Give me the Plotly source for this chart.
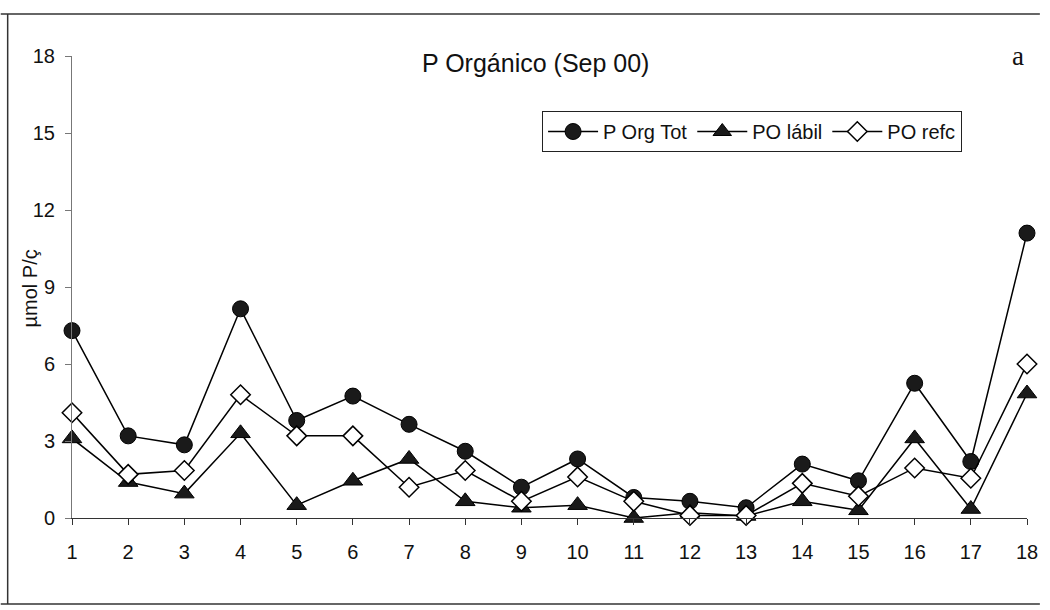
import plotly.graph_objects as go

# Sampling stations and organic phosphorus fractions (µmol P/g)
estaciones = list(range(1, 19))
p_org_tot = [7.3, 3.2, 2.85, 8.15, 3.8, 4.75, 3.65, 2.6, 1.2, 2.3, 0.8, 0.65, 0.4, 2.1, 1.45, 5.25, 2.2, 11.1]
po_labil = [3.1, 1.4, 0.95, 3.3, 0.5, 1.45, 2.3, 0.65, 0.4, 0.5, 0.0, 0.2, 0.08, 0.65, 0.3, 3.1, 0.35, 4.85]
po_refc = [4.1, 1.7, 1.85, 4.8, 3.2, 3.2, 1.2, 1.85, 0.65, 1.6, 0.65, 0.1, 0.1, 1.35, 0.85, 1.95, 1.55, 6.0]
y_ticks = [0, 3, 6, 9, 12, 15, 18]

W, H = 1050, 610
ML, MR, MT, MB = 72, 13, 56, 92
PW, PH = W - ML - MR, H - MT - MB
FONT = "Arial, Liberation Sans, sans-serif"

fig = go.Figure()
series = [
    ("P Org Tot", p_org_tot, dict(symbol="circle", size=16, color="#1a1a1a", line=dict(color="#000", width=1))),
    ("PO lábil", po_labil, dict(symbol="triangle-up", size=17, color="#1a1a1a", line=dict(color="#000", width=1))),
    ("PO refc", po_refc, dict(symbol="diamond", size=15, color="white", line=dict(color="#000", width=1.5))),
]
for name, vals, marker in series:
    fig.add_trace(go.Scatter(
        x=estaciones, y=vals, name=name, mode="lines+markers",
        line=dict(color="#000", width=1.5), marker=marker, cliponaxis=False,
    ))

def px_x(p):
    return (p - ML) / PW

def px_y(p):
    return (H - MB - p) / PH

# Outer frame lines
frame = dict(type="line", xref="paper", yref="paper", line=dict(color="#333", width=1.5))
fig.add_shape(**frame, x0=px_x(0), x1=px_x(W), y0=px_y(14), y1=px_y(14))
fig.add_shape(**frame, x0=px_x(7), x1=px_x(7), y0=px_y(14), y1=px_y(604))
fig.add_shape(**frame, x0=px_x(0), x1=px_x(W), y0=px_y(604), y1=px_y(604))

fig.add_annotation(text="P Orgánico (Sep 00)", xref="paper", yref="paper",
                   x=px_x(540), y=px_y(47), showarrow=False,
                   font=dict(family=FONT, size=25, color="#111"))
fig.add_annotation(text="a", xref="paper", yref="paper",
                   x=px_x(1036), y=px_y(39), showarrow=False,
                   font=dict(family="Liberation Serif, Times New Roman, serif", size=27, color="#111"))
fig.add_annotation(text="µmol P/ç", xref="paper", yref="paper",
                   x=px_x(30), y=px_y(288), xanchor="center", yanchor="middle",
                   showarrow=False, textangle=-90,
                   font=dict(family=FONT, size=20, color="#111"))

fig.update_layout(
    width=W, height=H,
    margin=dict(l=ML, r=MR, t=MT, b=MB),
    paper_bgcolor="white", plot_bgcolor="white",
    showlegend=True,
    legend=dict(orientation="h", x=px_x(547), y=px_y(111), xanchor="left", yanchor="top",
                bordercolor="#222", borderwidth=1, bgcolor="white",
                font=dict(family=FONT, size=20, color="#111"),
                itemwidth=50, tracegroupgap=0, entrywidth=0),
    xaxis=dict(range=[1, 18], tickmode="array", tickvals=estaciones,
               showline=True, linecolor="#333", linewidth=1, ticks="outside",
               ticklen=6, tickcolor="#333", showgrid=False, zeroline=False,
               ticklabelstandoff=10, ticklabeloverflow="allow",
               tickfont=dict(family=FONT, size=20, color="#111")),
    yaxis=dict(range=[0, 18], tickmode="array", tickvals=y_ticks,
               showline=True, linecolor="#777", linewidth=1, ticks="outside",
               ticklen=6, tickcolor="#777", showgrid=False, zeroline=False,
               ticklabelstandoff=6,
               tickfont=dict(family=FONT, size=20, color="#111")),
)

fig.write_html("out.html")
